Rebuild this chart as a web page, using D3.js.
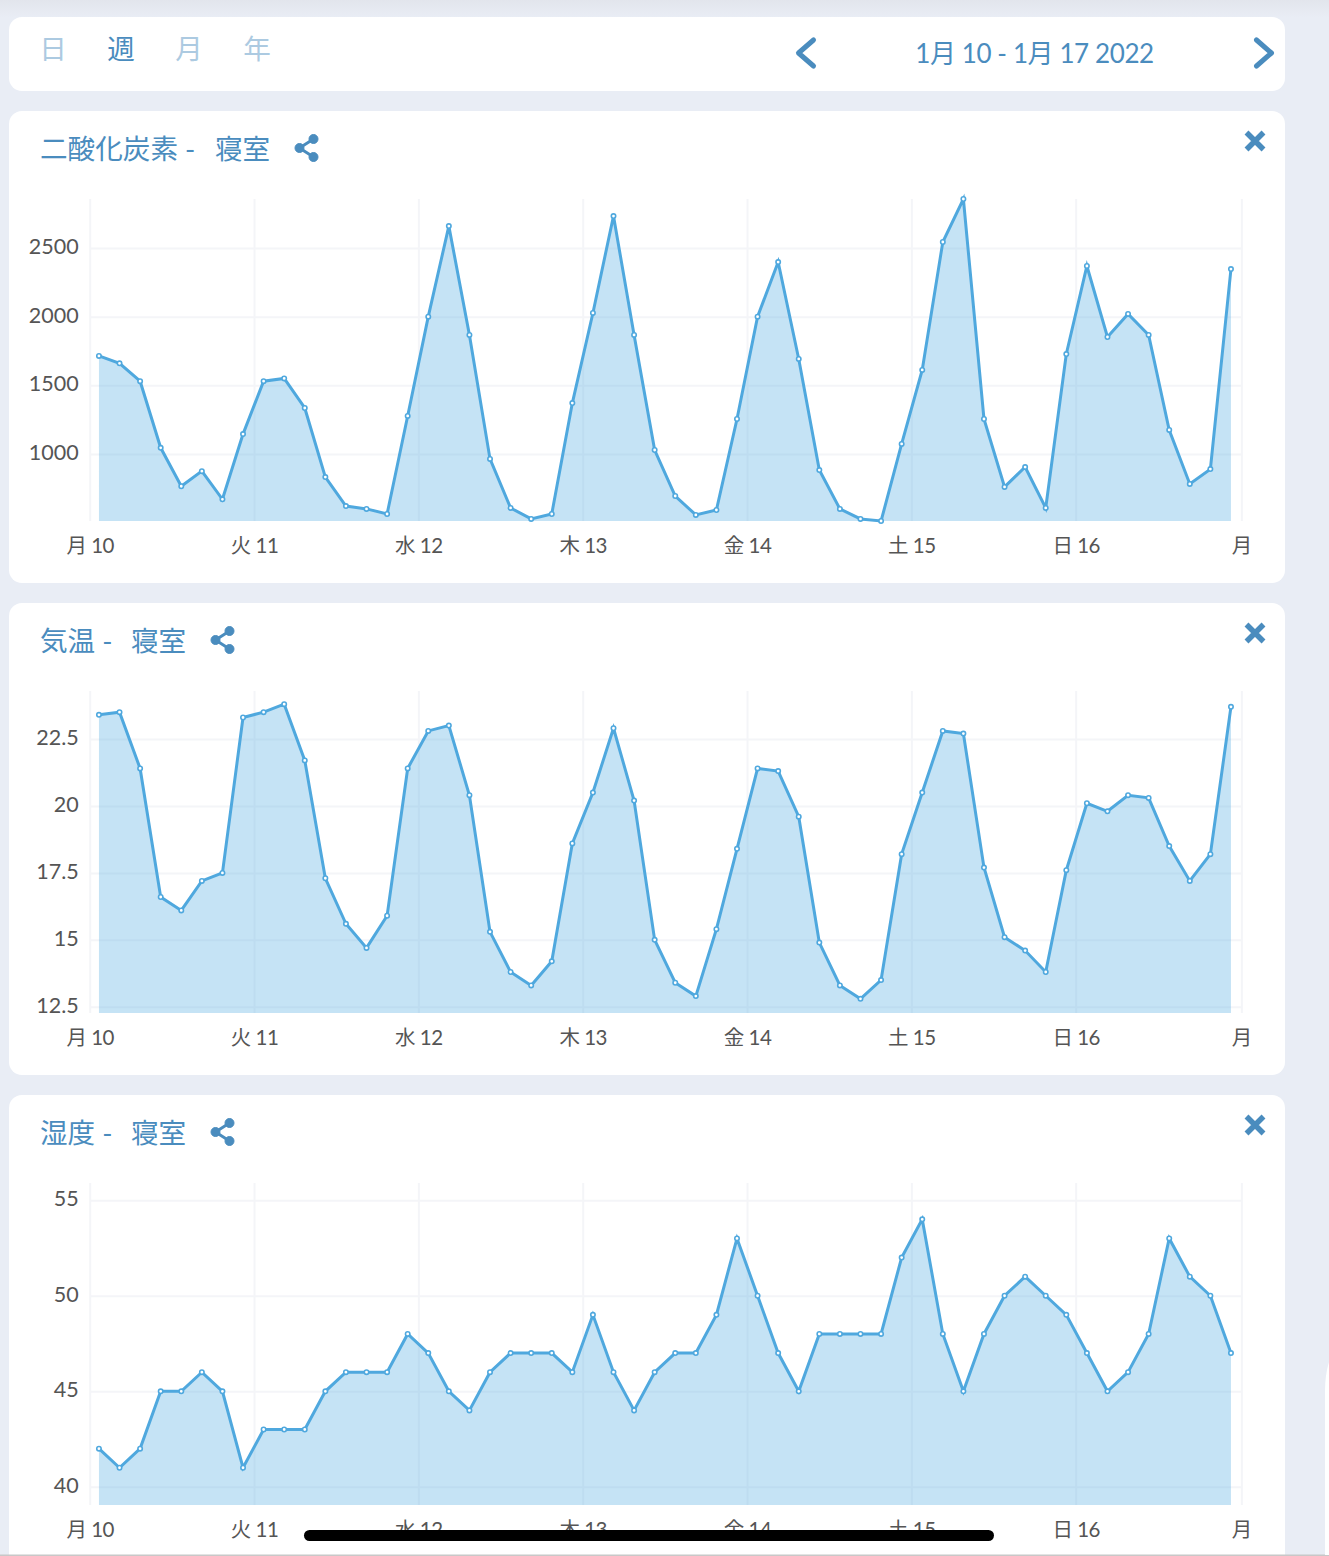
<!DOCTYPE html>
<html>
<head>
<meta charset="utf-8">
<script src="https://d3js.org/d3.v7.min.js"></script>
<style>
  html, body { margin: 0; padding: 0; background: #e9edf5; overflow: hidden; }
  svg { display: block; }
  text { font-family: Lato, "Noto Sans CJK JP", sans-serif; }
  .tick text { fill: #555; font-weight: 400; }
  .yaxis .tick text { font-size: 21.5px; }
  .xaxis .tick text { font-size: 20.5px; letter-spacing: -0.5px; }
  .title { font-size: 27.6px; fill: #4a8cbe; font-weight: 400; }
  .domain { display: none; }
  .tick line { stroke: #f4f5f8; stroke-width: 2; }
</style>
</head>
<body>
<svg></svg>
<script>
let dayLabels = ["月 10", "火 11", "水 12", "木 13", "金 14", "土 15", "日 16", "月"]
let dayHours = [0, 24, 48, 72, 96, 120, 144, 168.2]
let tabs = ["日", "週", "月", "年"]
let dateRange = "1月 10 - 1月 17 2022"

let co2Values = [1714, 1660, 1530, 1045, 765, 875, 670, 1145, 1530, 1550, 1335, 832, 621, 600, 563, 1277, 2000, 2660, 1867, 964, 607, 527, 563, 1371, 2027, 2733, 1867, 1029, 694, 556, 592, 1255, 2000, 2398, 1692, 883, 600, 527, 512, 1073, 1612, 2544, 2857, 1255, 760, 905, 607, 1728, 2369, 1852, 2020, 1867, 1175, 782, 890, 2347]
let tempValues = [23.4, 23.5, 21.4, 16.6, 16.1, 17.2, 17.5, 23.3, 23.5, 23.8, 21.7, 17.3, 15.6, 14.7, 15.9, 21.4, 22.8, 23.0, 20.4, 15.3, 13.8, 13.3, 14.2, 18.6, 20.5, 22.9, 20.2, 15.0, 13.4, 12.9, 15.4, 18.4, 21.4, 21.3, 19.6, 14.9, 13.3, 12.8, 13.5, 18.2, 20.5, 22.8, 22.7, 17.7, 15.1, 14.6, 13.8, 17.6, 20.1, 19.8, 20.4, 20.3, 18.5, 17.2, 18.2, 23.7]
let humidityValues = [42, 41, 42, 45, 45, 46, 45, 41, 43, 43, 43, 45, 46, 46, 46, 48, 47, 45, 44, 46, 47, 47, 47, 46, 49, 46, 44, 46, 47, 47, 49, 53, 50, 47, 45, 48, 48, 48, 48, 52, 54, 48, 45, 48, 50, 51, 50, 49, 47, 45, 46, 48, 53, 51, 50, 47]

let co2Ticks = [1000, 1500, 2000, 2500]
let tempTicks = [12.5, 15, 17.5, 20, 22.5]
let humidityTicks = [40, 45, 50, 55]

let width = 1329
let height = 1556
let blue = "#4a8cbe"
let lineColor = "#4fa8de"

let svg = d3.select("svg").attr("width", width).attr("height", height)

let defs = svg.append("defs")
let grad = defs.append("linearGradient").attr("id", "topfade").attr("x2", 0).attr("y2", 1)
grad.append("stop").attr("offset", 0).attr("stop-color", "#e2e5ec")
grad.append("stop").attr("offset", 1).attr("stop-color", "#e9edf5")
svg.append("rect").attr("width", width).attr("height", 17).attr("fill", "url(#topfade)")

let card = (y, h) => {
  svg.append("rect")
     .attr("x", 9).attr("y", y)
     .attr("width", 1276).attr("height", h)
     .attr("rx", 13)
     .attr("fill", "#fff")
}

let chevron = (x, dir) => {
  svg.append("path")
     .attr("d", "M" + (x - 7.5 * dir) + ",40 L" + (x + 7.5 * dir) + ",53 L" + (x - 7.5 * dir) + ",66")
     .attr("fill", "none")
     .attr("stroke", blue)
     .attr("stroke-width", 5)
     .attr("stroke-linecap", "round")
     .attr("stroke-linejoin", "round")
}

let shareIcon = (x, y) => {
  let g = svg.append("g").attr("transform", "translate(" + x + "," + y + ")").attr("fill", blue).attr("stroke", blue)
  g.append("path").attr("d", "M4,0 L18,-9 M4,0 L18,9").attr("stroke-width", 3)
  g.append("circle").attr("cx", 4).attr("cy", 0).attr("r", 4.5)
  g.append("circle").attr("cx", 18).attr("cy", -9).attr("r", 4.5)
  g.append("circle").attr("cx", 18).attr("cy", 9).attr("r", 4.5)
}

let closeIcon = (x, y) => {
  svg.append("path")
     .attr("d", "M" + (x - 8.5) + "," + (y - 8.5) + " L" + (x + 8.5) + "," + (y + 8.5) + " M" + (x + 8.5) + "," + (y - 8.5) + " L" + (x - 8.5) + "," + (y + 8.5))
     .attr("stroke", blue)
     .attr("stroke-width", 5.5)
}

let drawHeader = () => {
  card(17, 74)
  let tabX = [53, 121, 189, 257]
  svg.selectAll(".tab")
     .data(tabs)
     .enter()
     .append("text")
     .attr("class", "tab title")
     .attr("x", (d, i) => tabX[i])
     .attr("y", 59)
     .attr("text-anchor", "middle")
     .style("opacity", (d, i) => i == 1 ? 1 : 0.45)
     .text((d) => d)
  chevron(806, -1)
  chevron(1264, 1)
  svg.append("text")
     .attr("class", "title")
     .attr("x", 1034.5).attr("y", 63)
     .attr("text-anchor", "middle")
     .style("font-size", "26px")
     .style("letter-spacing", "-0.4px")
     .text(dateRange)
}

let drawPanel = (top, name, shareX, values, ticks, domain) => {
  card(top, 472)
  svg.append("text")
     .attr("class", "title")
     .attr("x", 40).attr("y", top + 48)
     .text(name + " -")
  svg.append("text")
     .attr("class", "title")
     .attr("x", shareX - 80).attr("y", top + 48)
     .text("寝室")
  shareIcon(shareX + 0.5, top + 37)
  closeIcon(1255, top + 30)

  let plotTop = top + 88
  let plotBottom = top + 410
  let gridRight = 1241.5
  let xScale = d3.scaleLinear().domain([0, 168]).range([89.7, 1240])
  let yScale = d3.scaleLinear().domain(domain).range([plotBottom, plotTop])
  let hour = (i) => 1.35 + i * 3.006

  let yAxis = d3.axisLeft(yScale)
                .tickValues(ticks)
                .tickFormat((d) => d)
                .tickSizeInner(-(gridRight - 89.7))
                .tickSizeOuter(0)
                .tickPadding(11)
  let yGroup = svg.append("g")
     .attr("class", "yaxis")
     .attr("transform", "translate(89.7,0)")
     .call(yAxis)
  yGroup.selectAll("text").attr("dy", "0.26em")

  let xAxis = d3.axisBottom(xScale)
                .tickValues(dayHours)
                .tickFormat((d, i) => dayLabels[i])
                .tickSizeInner(-(plotBottom - plotTop))
                .tickSizeOuter(0)
                .tickPadding(17)
  svg.append("g")
     .attr("class", "xaxis")
     .attr("transform", "translate(0," + plotBottom + ")")
     .call(xAxis)

  let area = d3.area()
               .x((d, i) => xScale(hour(i)))
               .y0(plotBottom)
               .y1((d) => yScale(d))
  let line = d3.line()
               .x((d, i) => xScale(hour(i)))
               .y((d) => yScale(d))

  svg.append("path")
     .attr("d", area(values))
     .attr("fill", "#5eb1e3")
     .attr("fill-opacity", 0.36)
  svg.append("path")
     .attr("d", line(values))
     .attr("fill", "none")
     .attr("stroke", lineColor)
     .attr("stroke-width", 3)
  svg.append("g")
     .selectAll("circle")
     .data(values)
     .enter()
     .append("circle")
     .attr("cx", (d, i) => xScale(hour(i)))
     .attr("cy", (d) => yScale(d))
     .attr("r", 2.2)
     .attr("fill", "#fff")
     .attr("stroke", lineColor)
     .attr("stroke-width", 1.6)
}

drawHeader()
drawPanel(111, "二酸化炭素", 295, co2Values, co2Ticks, [512, 2857])
drawPanel(603, "気温", 211, tempValues, tempTicks, [12.27, 24.29])
drawPanel(1095, "湿度", 211, humidityValues, humidityTicks, [39.05, 55.9])

// iphone home bar and the bottom edge of the screenshot
svg.append("rect").attr("x", 304).attr("y", 1530).attr("width", 690).attr("height", 11).attr("rx", 5.5).attr("fill", "#000")
svg.append("rect").attr("x", 0).attr("y", 1554.5).attr("width", width).attr("height", 1.5).attr("fill", "#c8c8c8")
svg.append("path").attr("d", "M1329,1362 Q1325,1375 1325,1391 L1325,1555 L1329,1555 Z").attr("fill", "#fff")
</script>
</body>
</html>
